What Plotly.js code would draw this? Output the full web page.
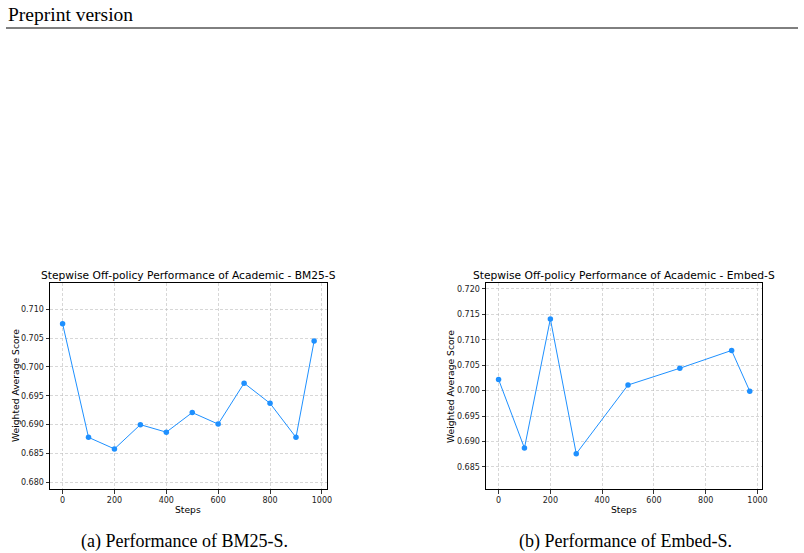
<!DOCTYPE html>
<html>
<head>
<meta charset="utf-8">
<script src="https://cdn.plot.ly/plotly-3.0.1.min.js"></script>
<style>
  html, body { margin: 0; padding: 0; background: #ffffff; }
  #chart { width: 804px; height: 553px; }
</style>
</head>
<body>
<div id="chart"></div>
<script>
// ---- Data ----
const stepsBM25 = [0, 100, 200, 300, 400, 500, 600, 700, 800, 900, 970];
const scoreBM25 = [0.7075, 0.6878, 0.6858, 0.6900, 0.6887, 0.6921, 0.6901, 0.6972, 0.6937, 0.6878, 0.7045];

const stepsEmbed = [0, 100, 200, 300, 500, 700, 900, 970];
const scoreEmbed = [0.7022, 0.6887, 0.7141, 0.6876, 0.7011, 0.7044, 0.7079, 0.6999];

const xTicks = [0, 200, 400, 600, 800, 1000];
const yTicksBM25 = [0.680, 0.685, 0.690, 0.695, 0.700, 0.705, 0.710];
const yTicksEmbed = [0.685, 0.690, 0.695, 0.700, 0.705, 0.710, 0.715, 0.720];

const titleBM25 = "Stepwise Off-policy Performance of Academic - BM25-S";
const titleEmbed = "Stepwise Off-policy Performance of Academic - Embed-S";
const captionBM25 = "(a) Performance of BM25-S.";
const captionEmbed = "(b) Performance of Embed-S.";
const headerText = "Preprint version";

// ---- Styling ----
const W = 804, H = 553;
const blue = "#1E90FF";
const sans = "DejaVu Sans, sans-serif";
const serif = "Liberation Serif, Times New Roman, serif";

function px(x) { return x / W; }
function py(y) { return 1 - y / H; }

const yPad = 0.007;
function yRange(vals) {
  return [Math.min(...vals) - yPad, Math.max(...vals) + yPad];
}
const xPad = 0.05 * (970 - 0);
const xRange = [0 - xPad, 970 + xPad];

const plotTop = 283.3, plotBottom = 489.3;
const leftDom = [50, 326.7];
const rightDom = [486, 762.3];

function xAxis(dom, anchor) {
  return {
    domain: [px(dom[0]), px(dom[1])],
    anchor: anchor,
    range: xRange,
    tickvals: xTicks,
    ticktext: xTicks.map(String),
    showline: true, mirror: true, linecolor: "#000", linewidth: 1,
    ticks: "outside", ticklen: 3.5, tickwidth: 0.8, tickcolor: "#000",
    tickfont: { family: sans, size: 8, color: "#222" },
    showgrid: true, gridcolor: "#bdbdbd", gridwidth: 0.6, griddash: "3px,2px",
    zeroline: false, fixedrange: true
  };
}
function yAxis(vals, ticks, anchor) {
  return {
    domain: [py(plotBottom), py(plotTop)],
    anchor: anchor,
    range: yRange(vals),
    tickvals: ticks,
    ticktext: ticks.map(v => v.toFixed(3)),
    showline: true, mirror: true, linecolor: "#000", linewidth: 1,
    ticks: "outside", ticklen: 3.5, tickwidth: 0.8, tickcolor: "#000",
    tickfont: { family: sans, size: 8, color: "#222" },
    showgrid: true, gridcolor: "#bdbdbd", gridwidth: 0.6, griddash: "3px,2px",
    zeroline: false, fixedrange: true
  };
}

const traces = [
  {
    x: stepsBM25, y: scoreBM25, xaxis: "x", yaxis: "y",
    type: "scatter", mode: "lines+markers",
    line: { color: blue, width: 1 },
    marker: { color: blue, size: 5.5, symbol: "circle" },
    hoverinfo: "skip"
  },
  {
    x: stepsEmbed, y: scoreEmbed, xaxis: "x2", yaxis: "y2",
    type: "scatter", mode: "lines+markers",
    line: { color: blue, width: 1 },
    marker: { color: blue, size: 5.5, symbol: "circle" },
    hoverinfo: "skip"
  }
];

function ann(text, x, y, size, family, opts) {
  return Object.assign({
    text: text, x: x, y: y, xref: "paper", yref: "paper",
    xanchor: "center", yanchor: "middle", showarrow: false,
    font: { family: family, size: size, color: "#000" }
  }, opts || {});
}

const annotations = [
  ann(headerText, px(6), py(15), 19.5, serif, { xanchor: "left" }),
  ann(titleBM25, px((leftDom[0] + leftDom[1]) / 2), py(275), 10.7, sans),
  ann(titleEmbed, px((rightDom[0] + rightDom[1]) / 2), py(275), 10.7, sans),
  ann("Steps", px((leftDom[0] + leftDom[1]) / 2), py(509), 9.2, sans),
  ann("Steps", px((rightDom[0] + rightDom[1]) / 2), py(509), 9.2, sans),
  ann("Weighted Average Score", px(15), py(386), 9.2, sans, { textangle: -90 }),
  ann("Weighted Average Score", px(450), py(386), 9.2, sans, { textangle: -90 }),
  ann(captionBM25, px(184), py(541), 18, serif),
  ann(captionEmbed, px(625.5), py(541), 18, serif)
];

const layout = {
  width: W, height: H,
  margin: { l: 0, r: 0, t: 0, b: 0, pad: 0 },
  paper_bgcolor: "#ffffff", plot_bgcolor: "#ffffff",
  showlegend: false,
  xaxis: xAxis(leftDom, "y"),
  yaxis: yAxis(scoreBM25, yTicksBM25, "x"),
  xaxis2: xAxis(rightDom, "y2"),
  yaxis2: yAxis(scoreEmbed, yTicksEmbed, "x2"),
  annotations: annotations,
  shapes: [
    { type: "line", xref: "paper", yref: "paper",
      x0: px(6), x1: px(798), y0: py(28), y1: py(28),
      line: { color: "#000", width: 1 } }
  ]
};

Plotly.newPlot("chart", traces, layout, { staticPlot: true, displayModeBar: false });
</script>
</body>
</html>
